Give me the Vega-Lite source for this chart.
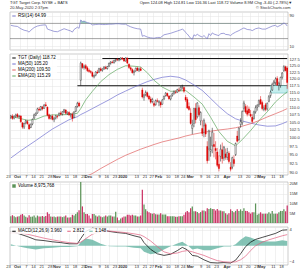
{
"$schema": "https://vega.github.io/schema/vega-lite/v6.json",
"padding": {"left": 5, "right": 1, "top": 1, "bottom": 0},
"background": "white",
"title": {"text": "TGT Target Corp. NYSE + BATS\u2003\u2003\u2003\u2003\u2003\u2003\u2003\u2003\u2003\u2003\u2003\u2003\u2003\u2003\u2003\u2003\u2003\u2003Open 124.08 High 124.81 Low 116.36 Last 118.72 Volume 8.9M Chg -3.40 (-2.78%)\u25bc", "subtitle": "20-May-2020 2:37pm\u2003\u2003\u2003\u2003\u2003\u2003\u2003\u2003\u2003\u2003\u2003\u2003\u2003\u2003\u2003\u2003\u2003\u2003\u2003\u2003\u2003\u2003\u2003\u2003\u2003\u2003\u2003\u2003\u2003\u2003\u2003\u2003\u2003\u2003\u2003\u2003\u2003\u2003\u2003\u2003\u2003\u2003\u2003\u2003\u2003\u2003\u2003\u2003\u2003\u2003\u2003\u2003© StockCharts.com", "anchor": "start", "frame": "group", "fontSize": 4.0, "subtitleFontSize": 4.0, "font": "Liberation Sans", "subtitleFont": "Liberation Sans", "fontWeight": "normal", "color": "#222", "subtitleColor": "#333", "offset": 1.5, "subtitlePadding": 1.2},
"spacing": 2,
"resolve": {"scale": {"x": "shared", "color": "independent"}, "legend": {"color": "independent"}},
"datasets": {
"ohlc": [
{"d":"2019-09-23","o":106.6,"h":107.4,"l":106.0,"c":107.0,"v":3.5},
{"d":"2019-09-24","o":107.0,"h":107.6,"l":105.8,"c":106.2,"v":4.0},
{"d":"2019-09-25","o":106.3,"h":107.2,"l":105.9,"c":106.9,"v":3.4},
{"d":"2019-09-26","o":107.0,"h":107.8,"l":106.5,"c":107.4,"v":3.0},
{"d":"2019-09-27","o":107.5,"h":108.0,"l":106.4,"c":106.8,"v":3.3},
{"d":"2019-09-30","o":106.9,"h":107.4,"l":106.2,"c":106.9,"v":3.5},
{"d":"2019-10-01","o":107.0,"h":107.3,"l":104.8,"c":105.1,"v":4.2},
{"d":"2019-10-02","o":104.8,"h":105.0,"l":102.9,"c":103.4,"v":4.6},
{"d":"2019-10-03","o":103.4,"h":104.8,"l":102.8,"c":104.6,"v":3.8},
{"d":"2019-10-04","o":104.8,"h":105.8,"l":104.3,"c":105.4,"v":3.2},
{"d":"2019-10-07","o":105.2,"h":105.8,"l":104.2,"c":104.5,"v":2.8},
{"d":"2019-10-08","o":104.2,"h":104.6,"l":102.6,"c":102.8,"v":4.0},
{"d":"2019-10-09","o":103.3,"h":104.6,"l":103.1,"c":104.3,"v":3.2},
{"d":"2019-10-10","o":104.4,"h":106.2,"l":104.0,"c":105.9,"v":3.3},
{"d":"2019-10-11","o":106.3,"h":107.8,"l":106.0,"c":107.4,"v":3.8},
{"d":"2019-10-14","o":107.3,"h":108.2,"l":107.0,"c":107.9,"v":2.8},
{"d":"2019-10-15","o":108.0,"h":109.8,"l":107.8,"c":109.4,"v":3.8},
{"d":"2019-10-16","o":109.3,"h":110.0,"l":108.6,"c":109.0,"v":3.3},
{"d":"2019-10-17","o":109.2,"h":110.4,"l":108.7,"c":110.2,"v":3.3},
{"d":"2019-10-18","o":110.0,"h":110.4,"l":108.9,"c":109.4,"v":3.6},
{"d":"2019-10-21","o":109.6,"h":111.0,"l":109.4,"c":110.7,"v":3.2},
{"d":"2019-10-22","o":110.8,"h":111.7,"l":110.2,"c":110.4,"v":3.6},
{"d":"2019-10-23","o":110.0,"h":110.2,"l":106.9,"c":107.3,"v":5.5},
{"d":"2019-10-24","o":107.4,"h":107.8,"l":105.8,"c":106.2,"v":4.6},
{"d":"2019-10-25","o":106.3,"h":107.3,"l":105.9,"c":106.9,"v":3.3},
{"d":"2019-10-28","o":107.0,"h":107.5,"l":105.6,"c":105.9,"v":3.2},
{"d":"2019-10-29","o":105.8,"h":106.6,"l":105.0,"c":106.3,"v":3.3},
{"d":"2019-10-30","o":106.4,"h":107.4,"l":105.9,"c":107.1,"v":3.0},
{"d":"2019-10-31","o":107.0,"h":107.3,"l":106.2,"c":106.9,"v":3.3},
{"d":"2019-11-01","o":107.2,"h":108.2,"l":106.9,"c":107.9,"v":3.3},
{"d":"2019-11-04","o":108.0,"h":108.6,"l":107.2,"c":107.6,"v":3.3},
{"d":"2019-11-05","o":107.6,"h":108.6,"l":107.2,"c":108.4,"v":3.0},
{"d":"2019-11-06","o":108.4,"h":109.4,"l":108.0,"c":109.1,"v":3.3},
{"d":"2019-11-07","o":109.0,"h":109.3,"l":107.6,"c":107.9,"v":3.8},
{"d":"2019-11-08","o":107.8,"h":108.5,"l":107.4,"c":108.3,"v":2.8},
{"d":"2019-11-11","o":108.2,"h":108.6,"l":107.0,"c":107.4,"v":2.8},
{"d":"2019-11-12","o":107.4,"h":107.9,"l":106.5,"c":107.7,"v":3.0},
{"d":"2019-11-13","o":107.6,"h":108.2,"l":105.2,"c":106.2,"v":4.2},
{"d":"2019-11-14","o":106.5,"h":108.6,"l":106.3,"c":108.4,"v":3.8},
{"d":"2019-11-15","o":108.6,"h":110.4,"l":108.3,"c":110.1,"v":4.6},
{"d":"2019-11-18","o":110.2,"h":111.8,"l":109.8,"c":111.3,"v":5.5},
{"d":"2019-11-19","o":111.4,"h":111.9,"l":110.0,"c":110.4,"v":6.5},
{"d":"2019-11-20","o":119.5,"h":126.6,"l":117.6,"c":126.0,"v":21.5},
{"d":"2019-11-21","o":125.8,"h":126.0,"l":123.8,"c":124.3,"v":8.5},
{"d":"2019-11-22","o":124.3,"h":125.4,"l":123.5,"c":124.8,"v":5.5},
{"d":"2019-11-25","o":125.0,"h":125.6,"l":123.6,"c":124.0,"v":4.6},
{"d":"2019-11-26","o":124.2,"h":124.8,"l":122.6,"c":123.1,"v":4.6},
{"d":"2019-11-27","o":123.3,"h":123.9,"l":122.3,"c":122.8,"v":3.8},
{"d":"2019-11-29","o":122.8,"h":123.3,"l":122.0,"c":122.5,"v":2.3},
{"d":"2019-12-02","o":122.4,"h":122.8,"l":120.6,"c":121.0,"v":4.6},
{"d":"2019-12-03","o":120.8,"h":121.6,"l":120.2,"c":121.3,"v":4.6},
{"d":"2019-12-04","o":121.4,"h":122.9,"l":121.0,"c":122.6,"v":3.8},
{"d":"2019-12-05","o":122.6,"h":123.4,"l":121.9,"c":122.2,"v":3.3},
{"d":"2019-12-06","o":122.5,"h":124.2,"l":122.3,"c":123.9,"v":3.8},
{"d":"2019-12-09","o":123.8,"h":124.4,"l":122.8,"c":123.2,"v":3.3},
{"d":"2019-12-10","o":123.2,"h":124.0,"l":122.7,"c":123.7,"v":3.0},
{"d":"2019-12-11","o":123.8,"h":124.8,"l":123.4,"c":124.5,"v":3.3},
{"d":"2019-12-12","o":124.4,"h":125.0,"l":123.6,"c":123.9,"v":3.8},
{"d":"2019-12-13","o":123.9,"h":124.9,"l":123.5,"c":124.7,"v":3.3},
{"d":"2019-12-16","o":124.8,"h":126.2,"l":124.5,"c":125.9,"v":3.8},
{"d":"2019-12-17","o":126.0,"h":126.8,"l":125.4,"c":126.4,"v":3.8},
{"d":"2019-12-18","o":126.4,"h":127.0,"l":125.9,"c":126.2,"v":3.3},
{"d":"2019-12-19","o":126.2,"h":127.3,"l":125.8,"c":127.0,"v":3.3},
{"d":"2019-12-20","o":127.1,"h":127.8,"l":126.4,"c":127.5,"v":5.8},
{"d":"2019-12-23","o":127.4,"h":128.0,"l":126.8,"c":127.2,"v":2.8},
{"d":"2019-12-24","o":127.2,"h":127.7,"l":126.7,"c":127.4,"v":1.4},
{"d":"2019-12-26","o":127.4,"h":128.3,"l":127.1,"c":128.0,"v":2.3},
{"d":"2019-12-27","o":128.0,"h":128.4,"l":127.3,"c":127.6,"v":2.8},
{"d":"2019-12-30","o":127.6,"h":127.9,"l":126.5,"c":126.8,"v":3.3},
{"d":"2019-12-31","o":126.8,"h":128.2,"l":126.6,"c":128.1,"v":3.3},
{"d":"2020-01-02","o":128.0,"h":128.2,"l":125.6,"c":126.0,"v":4.2},
{"d":"2020-01-03","o":125.6,"h":125.9,"l":123.8,"c":124.3,"v":4.2},
{"d":"2020-01-06","o":124.2,"h":124.7,"l":122.9,"c":123.6,"v":3.8},
{"d":"2020-01-07","o":123.5,"h":124.0,"l":122.0,"c":122.3,"v":4.2},
{"d":"2020-01-08","o":122.4,"h":123.4,"l":121.3,"c":122.8,"v":3.8},
{"d":"2020-01-09","o":123.0,"h":124.3,"l":122.7,"c":124.0,"v":3.8},
{"d":"2020-01-10","o":124.1,"h":124.6,"l":122.9,"c":123.2,"v":3.3},
{"d":"2020-01-13","o":123.3,"h":124.2,"l":122.6,"c":123.8,"v":3.3},
{"d":"2020-01-14","o":123.8,"h":124.5,"l":122.9,"c":123.2,"v":3.8},
{"d":"2020-01-15","o":116.0,"h":116.8,"l":113.0,"c":113.5,"v":17.0},
{"d":"2020-01-16","o":113.4,"h":114.6,"l":112.2,"c":114.2,"v":9.5},
{"d":"2020-01-17","o":114.4,"h":115.8,"l":113.8,"c":115.1,"v":7.0},
{"d":"2020-01-21","o":115.0,"h":115.4,"l":113.3,"c":113.7,"v":6.0},
{"d":"2020-01-22","o":113.8,"h":114.3,"l":112.4,"c":112.8,"v":5.5},
{"d":"2020-01-23","o":112.8,"h":113.6,"l":111.2,"c":111.7,"v":5.0},
{"d":"2020-01-24","o":111.9,"h":113.2,"l":111.3,"c":112.6,"v":4.8},
{"d":"2020-01-27","o":111.2,"h":112.0,"l":110.0,"c":110.6,"v":5.0},
{"d":"2020-01-28","o":110.8,"h":112.6,"l":110.5,"c":112.2,"v":4.5},
{"d":"2020-01-29","o":112.2,"h":113.0,"l":111.6,"c":112.0,"v":4.3},
{"d":"2020-01-30","o":111.6,"h":112.4,"l":110.3,"c":111.9,"v":4.3},
{"d":"2020-01-31","o":111.6,"h":112.0,"l":109.8,"c":110.7,"v":5.0},
{"d":"2020-02-03","o":111.0,"h":112.8,"l":110.8,"c":112.4,"v":4.3},
{"d":"2020-02-04","o":112.8,"h":114.0,"l":112.4,"c":113.7,"v":4.3},
{"d":"2020-02-05","o":114.0,"h":115.2,"l":113.6,"c":114.8,"v":4.3},
{"d":"2020-02-06","o":114.8,"h":115.0,"l":113.5,"c":113.9,"v":3.5},
{"d":"2020-02-07","o":113.8,"h":114.2,"l":112.5,"c":112.9,"v":3.5},
{"d":"2020-02-10","o":112.8,"h":114.0,"l":112.3,"c":113.8,"v":3.5},
{"d":"2020-02-11","o":114.0,"h":115.0,"l":113.6,"c":114.6,"v":3.5},
{"d":"2020-02-12","o":114.8,"h":115.8,"l":114.3,"c":115.4,"v":3.5},
{"d":"2020-02-13","o":115.2,"h":115.9,"l":114.6,"c":115.1,"v":3.2},
{"d":"2020-02-14","o":115.2,"h":116.4,"l":114.9,"c":116.1,"v":3.2},
{"d":"2020-02-18","o":116.0,"h":116.8,"l":115.2,"c":115.8,"v":3.5},
{"d":"2020-02-19","o":116.0,"h":117.3,"l":115.8,"c":117.0,"v":3.5},
{"d":"2020-02-20","o":117.0,"h":117.9,"l":116.2,"c":117.2,"v":3.5},
{"d":"2020-02-21","o":116.9,"h":117.2,"l":115.0,"c":115.5,"v":4.2},
{"d":"2020-02-24","o":113.4,"h":114.2,"l":111.8,"c":112.4,"v":5.5},
{"d":"2020-02-25","o":112.6,"h":113.4,"l":109.4,"c":109.7,"v":6.2},
{"d":"2020-02-26","o":110.2,"h":111.6,"l":108.8,"c":109.2,"v":5.5},
{"d":"2020-02-27","o":108.0,"h":109.6,"l":104.2,"c":104.6,"v":7.5},
{"d":"2020-02-28","o":103.0,"h":105.8,"l":101.2,"c":104.1,"v":8.5},
{"d":"2020-03-02","o":104.6,"h":109.8,"l":103.4,"c":109.5,"v":6.0},
{"d":"2020-03-03","o":109.6,"h":111.3,"l":104.6,"c":105.8,"v":6.0},
{"d":"2020-03-04","o":106.8,"h":111.7,"l":106.2,"c":111.4,"v":5.6},
{"d":"2020-03-05","o":109.8,"h":110.6,"l":106.8,"c":107.4,"v":5.0},
{"d":"2020-03-06","o":105.4,"h":108.6,"l":104.0,"c":108.2,"v":5.6},
{"d":"2020-03-09","o":103.0,"h":105.6,"l":100.6,"c":101.4,"v":6.4},
{"d":"2020-03-10","o":103.8,"h":106.2,"l":100.2,"c":105.6,"v":6.4},
{"d":"2020-03-11","o":104.2,"h":104.8,"l":100.3,"c":101.2,"v":6.0},
{"d":"2020-03-12","o":97.4,"h":99.0,"l":92.4,"c":93.2,"v":7.6},
{"d":"2020-03-13","o":96.6,"h":102.6,"l":93.2,"c":102.2,"v":7.2},
{"d":"2020-03-16","o":96.0,"h":100.4,"l":94.4,"c":96.5,"v":7.6},
{"d":"2020-03-17","o":97.6,"h":103.2,"l":95.4,"c":101.8,"v":7.2},
{"d":"2020-03-18","o":98.0,"h":101.6,"l":94.2,"c":97.4,"v":7.2},
{"d":"2020-03-19","o":96.8,"h":99.0,"l":93.6,"c":96.2,"v":6.4},
{"d":"2020-03-20","o":95.8,"h":97.0,"l":91.4,"c":91.9,"v":7.2},
{"d":"2020-03-23","o":92.2,"h":94.8,"l":90.2,"c":91.0,"v":6.4},
{"d":"2020-03-24","o":94.5,"h":98.0,"l":93.0,"c":96.6,"v":6.4},
{"d":"2020-03-25","o":96.4,"h":98.6,"l":92.4,"c":93.8,"v":6.0},
{"d":"2020-03-26","o":94.0,"h":97.6,"l":93.2,"c":97.2,"v":6.0},
{"d":"2020-03-27","o":95.2,"h":96.8,"l":93.5,"c":94.2,"v":5.0},
{"d":"2020-03-30","o":94.2,"h":97.0,"l":93.4,"c":95.6,"v":4.4},
{"d":"2020-03-31","o":95.4,"h":96.0,"l":92.4,"c":93.0,"v":5.0},
{"d":"2020-04-01","o":91.4,"h":92.8,"l":90.2,"c":90.8,"v":7.0},
{"d":"2020-04-02","o":91.4,"h":94.4,"l":90.8,"c":94.1,"v":6.2},
{"d":"2020-04-03","o":93.6,"h":94.8,"l":91.6,"c":92.4,"v":5.5},
{"d":"2020-04-06","o":95.0,"h":98.6,"l":94.6,"c":98.3,"v":6.2},
{"d":"2020-04-07","o":100.6,"h":102.2,"l":98.6,"c":99.0,"v":7.0},
{"d":"2020-04-08","o":99.5,"h":103.4,"l":99.0,"c":103.1,"v":6.2},
{"d":"2020-04-09","o":104.2,"h":106.3,"l":103.2,"c":105.2,"v":7.0},
{"d":"2020-04-13","o":104.8,"h":108.9,"l":104.0,"c":108.5,"v":6.2},
{"d":"2020-04-14","o":109.6,"h":112.2,"l":108.4,"c":111.4,"v":7.5},
{"d":"2020-04-15","o":110.2,"h":111.0,"l":107.8,"c":108.3,"v":6.2},
{"d":"2020-04-16","o":108.8,"h":110.6,"l":106.9,"c":107.6,"v":6.2},
{"d":"2020-04-17","o":109.4,"h":110.2,"l":107.2,"c":108.0,"v":5.5},
{"d":"2020-04-20","o":107.6,"h":109.0,"l":106.6,"c":107.0,"v":4.8},
{"d":"2020-04-21","o":106.6,"h":107.6,"l":104.7,"c":105.2,"v":5.5},
{"d":"2020-04-22","o":106.2,"h":108.8,"l":105.8,"c":108.4,"v":5.5},
{"d":"2020-04-23","o":108.4,"h":110.6,"l":107.8,"c":109.8,"v":10.0},
{"d":"2020-04-24","o":110.0,"h":111.0,"l":108.8,"c":110.6,"v":4.2},
{"d":"2020-04-27","o":110.8,"h":112.6,"l":110.0,"c":112.2,"v":4.8},
{"d":"2020-04-28","o":112.6,"h":113.8,"l":110.8,"c":111.1,"v":5.5},
{"d":"2020-04-29","o":111.6,"h":112.2,"l":108.9,"c":109.5,"v":4.8},
{"d":"2020-04-30","o":109.2,"h":110.6,"l":108.6,"c":109.7,"v":4.8},
{"d":"2020-05-01","o":110.8,"h":111.4,"l":108.6,"c":109.2,"v":4.8},
{"d":"2020-05-04","o":109.4,"h":111.6,"l":108.8,"c":111.3,"v":4.8},
{"d":"2020-05-05","o":112.0,"h":114.2,"l":111.6,"c":113.6,"v":5.5},
{"d":"2020-05-06","o":114.0,"h":115.8,"l":113.2,"c":115.2,"v":4.8},
{"d":"2020-05-07","o":116.0,"h":118.6,"l":115.6,"c":118.0,"v":6.2},
{"d":"2020-05-08","o":118.4,"h":119.6,"l":117.6,"c":118.9,"v":4.8},
{"d":"2020-05-11","o":118.6,"h":120.6,"l":117.8,"c":120.0,"v":4.8},
{"d":"2020-05-12","o":120.2,"h":121.0,"l":117.4,"c":117.8,"v":4.8},
{"d":"2020-05-13","o":117.6,"h":119.0,"l":115.8,"c":118.4,"v":5.5},
{"d":"2020-05-14","o":117.6,"h":120.8,"l":116.8,"c":120.6,"v":6.2},
{"d":"2020-05-15","o":120.6,"h":122.6,"l":119.8,"c":122.2,"v":6.2},
{"d":"2020-05-18","o":123.2,"h":125.2,"l":122.6,"c":124.6,"v":7.0},
{"d":"2020-05-19","o":124.6,"h":125.0,"l":122.8,"c":123.1,"v":6.0},
{"d":"2020-05-20","o":124.1,"h":124.8,"l":116.4,"c":118.7,"v":9.0}
],
"rsi": [
{"d":"2019-09-23","r":65},{"d":"2019-09-25","r":63},{"d":"2019-09-27","r":62},{"d":"2019-10-01","r":56},{"d":"2019-10-03","r":52},{"d":"2019-10-07","r":50},{"d":"2019-10-08","r":47},{"d":"2019-10-09","r":52},{"d":"2019-10-11","r":59},{"d":"2019-10-15","r":63},{"d":"2019-10-17","r":65},{"d":"2019-10-21","r":66},{"d":"2019-10-22","r":66},{"d":"2019-10-23","r":55},{"d":"2019-10-25","r":52},{"d":"2019-10-29","r":49},{"d":"2019-10-31","r":48},{"d":"2019-11-04","r":52},{"d":"2019-11-06","r":56},{"d":"2019-11-08","r":53},{"d":"2019-11-12","r":50},{"d":"2019-11-13","r":47},{"d":"2019-11-14","r":54},{"d":"2019-11-18","r":60},{"d":"2019-11-19","r":57},{"d":"2019-11-20","r":79},{"d":"2019-11-21","r":75},{"d":"2019-11-22","r":76},{"d":"2019-11-25","r":74},{"d":"2019-11-26","r":72},{"d":"2019-11-27","r":71},{"d":"2019-11-29","r":69},{"d":"2019-12-02","r":66},{"d":"2019-12-04","r":67},{"d":"2019-12-06","r":68},{"d":"2019-12-10","r":67},{"d":"2019-12-12","r":67},{"d":"2019-12-16","r":68},{"d":"2019-12-18","r":68},{"d":"2019-12-20","r":69},{"d":"2019-12-24","r":69},{"d":"2019-12-27","r":68},{"d":"2019-12-31","r":68},{"d":"2020-01-02","r":65},{"d":"2020-01-06","r":61},{"d":"2020-01-08","r":58},{"d":"2020-01-10","r":56},{"d":"2020-01-14","r":55},{"d":"2020-01-15","r":36},{"d":"2020-01-16","r":38},{"d":"2020-01-21","r":34},{"d":"2020-01-23","r":32},{"d":"2020-01-27","r":31},{"d":"2020-01-29","r":33},{"d":"2020-01-31","r":33},{"d":"2020-02-04","r":40},{"d":"2020-02-06","r":42},{"d":"2020-02-10","r":44},{"d":"2020-02-12","r":47},{"d":"2020-02-14","r":50},{"d":"2020-02-19","r":53},{"d":"2020-02-20","r":55},{"d":"2020-02-21","r":52},{"d":"2020-02-24","r":46},{"d":"2020-02-25","r":42},{"d":"2020-02-27","r":31},{"d":"2020-02-28","r":28},{"d":"2020-03-02","r":40},{"d":"2020-03-03","r":37},{"d":"2020-03-04","r":42},{"d":"2020-03-05","r":38},{"d":"2020-03-09","r":34},{"d":"2020-03-10","r":38},{"d":"2020-03-11","r":34},{"d":"2020-03-12","r":29},{"d":"2020-03-13","r":43},{"d":"2020-03-16","r":38},{"d":"2020-03-17","r":45},{"d":"2020-03-18","r":42},{"d":"2020-03-20","r":39},{"d":"2020-03-23","r":38},{"d":"2020-03-24","r":43},{"d":"2020-03-26","r":44},{"d":"2020-03-27","r":41},{"d":"2020-03-31","r":40},{"d":"2020-04-01","r":38},{"d":"2020-04-02","r":42},{"d":"2020-04-06","r":47},{"d":"2020-04-08","r":51},{"d":"2020-04-13","r":56},{"d":"2020-04-14","r":58},{"d":"2020-04-16","r":54},{"d":"2020-04-20","r":53},{"d":"2020-04-21","r":51},{"d":"2020-04-23","r":56},{"d":"2020-04-27","r":58},{"d":"2020-04-29","r":55},{"d":"2020-05-01","r":55},{"d":"2020-05-05","r":59},{"d":"2020-05-07","r":63},{"d":"2020-05-11","r":65},{"d":"2020-05-12","r":61},{"d":"2020-05-14","r":65},{"d":"2020-05-18","r":71},{"d":"2020-05-19","r":69},{"d":"2020-05-20","r":63}
],
"ma": [
{"d":"2019-09-23","a20":106.8,"a50":94.0},
{"d":"2019-09-30","a20":106.3,"a50":95.8},
{"d":"2019-10-07","a20":105.6,"a50":97.5},
{"d":"2019-10-14","a20":105.9,"a50":99.2},
{"d":"2019-10-21","a20":107.0,"a50":101.0},
{"d":"2019-10-28","a20":107.4,"a50":102.8},
{"d":"2019-11-04","a20":107.4,"a50":104.3,"a200":86.5},
{"d":"2019-11-11","a20":107.6,"a50":105.8,"a200":87.3},
{"d":"2019-11-18","a20":107.9,"a50":106.8,"a200":88.0},
{"d":"2019-11-20","a20":109.5,"a50":107.5},
{"d":"2019-11-25","a20":112.5,"a50":108.3,"a200":88.8},
{"d":"2019-12-02","a20":115.5,"a50":109.5,"a200":89.6},
{"d":"2019-12-09","a20":119.0,"a50":111.0,"a200":91.0},
{"d":"2019-12-16","a20":121.6,"a50":112.5,"a200":92.3},
{"d":"2019-12-23","a20":123.6,"a50":114.2,"a200":93.6},
{"d":"2019-12-31","a20":125.0,"a50":115.6,"a200":94.8},
{"d":"2020-01-08","a20":124.8,"a50":117.0,"a200":95.8},
{"d":"2020-01-14","a20":124.5,"a50":118.0,"a200":96.6},
{"d":"2020-01-21","a20":122.3,"a50":119.0,"a200":97.3},
{"d":"2020-01-27","a20":119.5,"a50":119.8,"a200":98.0},
{"d":"2020-02-03","a20":117.0,"a50":120.6,"a200":98.8},
{"d":"2020-02-10","a20":115.5,"a50":121.0,"a200":99.4},
{"d":"2020-02-18","a20":115.6,"a50":120.6,"a200":100.0},
{"d":"2020-02-24","a20":115.8,"a50":119.6,"a200":100.6},
{"d":"2020-03-02","a20":113.5,"a50":117.8,"a200":101.2},
{"d":"2020-03-09","a20":111.0,"a50":115.8,"a200":101.7},
{"d":"2020-03-16","a20":106.6,"a50":113.0,"a200":102.1},
{"d":"2020-03-23","a20":102.0,"a50":110.2,"a200":102.5},
{"d":"2020-03-30","a20":99.0,"a50":107.8,"a200":102.8},
{"d":"2020-04-06","a20":97.6,"a50":106.1,"a200":103.2},
{"d":"2020-04-13","a20":99.5,"a50":105.4,"a200":103.7},
{"d":"2020-04-20","a20":102.3,"a50":104.7,"a200":104.5},
{"d":"2020-04-27","a20":105.5,"a50":104.1,"a200":105.5},
{"d":"2020-05-04","a20":108.4,"a50":103.7,"a200":106.7},
{"d":"2020-05-11","a20":111.8,"a50":103.8,"a200":107.8},
{"d":"2020-05-15","a20":113.9,"a50":104.5,"a200":108.7},
{"d":"2020-05-20","a20":115.3,"a50":105.2,"a200":109.5}
],
"macd": [
{"d":"2019-09-23","m":3.6,"s":3.2,"h":0.4},
{"d":"2019-09-30","m":3.0,"s":3.2,"h":-0.2},
{"d":"2019-10-07","m":2.3,"s":2.9,"h":-0.6},
{"d":"2019-10-14","m":1.5,"s":2.4,"h":-0.9},
{"d":"2019-10-21","m":1.3,"s":1.9,"h":-0.6},
{"d":"2019-10-28","m":1.0,"s":1.5,"h":-0.5},
{"d":"2019-11-04","m":0.8,"s":1.1,"h":-0.3},
{"d":"2019-11-11","m":0.5,"s":0.8,"h":-0.3},
{"d":"2019-11-18","m":0.5,"s":0.6,"h":-0.1},
{"d":"2019-11-20","m":1.8,"s":0.9,"h":0.9},
{"d":"2019-11-25","m":3.6,"s":1.8,"h":1.8},
{"d":"2019-12-02","m":4.4,"s":2.9,"h":1.5},
{"d":"2019-12-09","m":4.1,"s":3.6,"h":0.5},
{"d":"2019-12-16","m":3.6,"s":3.7,"h":-0.1},
{"d":"2019-12-23","m":3.3,"s":3.5,"h":-0.2},
{"d":"2019-12-31","m":3.1,"s":3.3,"h":-0.2},
{"d":"2020-01-08","m":2.5,"s":3.0,"h":-0.5},
{"d":"2020-01-14","m":2.1,"s":2.7,"h":-0.6},
{"d":"2020-01-16","m":0.8,"s":2.3,"h":-1.5},
{"d":"2020-01-23","m":-0.9,"s":1.2,"h":-2.1},
{"d":"2020-01-29","m":-2.0,"s":-0.2,"h":-1.8},
{"d":"2020-02-04","m":-2.4,"s":-1.5,"h":-0.9},
{"d":"2020-02-10","m":-2.1,"s":-2.0,"h":-0.1},
{"d":"2020-02-14","m":-1.2,"s":-1.8,"h":0.6},
{"d":"2020-02-20","m":-0.4,"s":-1.4,"h":1.0},
{"d":"2020-02-25","m":-1.0,"s":-1.2,"h":0.2},
{"d":"2020-02-28","m":-2.4,"s":-1.5,"h":-0.9},
{"d":"2020-03-04","m":-2.6,"s":-1.9,"h":-0.7},
{"d":"2020-03-10","m":-3.5,"s":-2.4,"h":-1.1},
{"d":"2020-03-16","m":-4.2,"s":-3.1,"h":-1.1},
{"d":"2020-03-20","m":-4.3,"s":-3.7,"h":-0.6},
{"d":"2020-03-26","m":-4.2,"s":-4.0,"h":-0.2},
{"d":"2020-04-01","m":-4.3,"s":-4.1,"h":-0.2},
{"d":"2020-04-06","m":-3.6,"s":-4.0,"h":0.4},
{"d":"2020-04-09","m":-2.0,"s":-3.5,"h":1.5},
{"d":"2020-04-15","m":-0.2,"s":-2.6,"h":2.4},
{"d":"2020-04-20","m":0.9,"s":-1.2,"h":2.1},
{"d":"2020-04-23","m":1.6,"s":0.0,"h":1.6},
{"d":"2020-04-29","m":2.1,"s":0.9,"h":1.2},
{"d":"2020-05-05","m":2.6,"s":1.5,"h":1.1},
{"d":"2020-05-11","m":3.1,"s":2.0,"h":1.1},
{"d":"2020-05-15","m":3.9,"s":2.5,"h":1.4},
{"d":"2020-05-20","m":4.0,"s":2.8,"h":1.2}
],
"lines": [
{"d1":"2019-12-10","d2":"2020-05-20","p":127.8},
{"d1":"2019-11-18","d2":"2020-05-20","p":117.5}
],
"box": [
{"d1":"2020-05-06","d2":"2020-05-20","p1":114.9,"p2":117.5}
]
},
"vconcat": [
{
"width": 278, "height": 38,
"layer": [
{"data": {"name": "rsi"}, "transform": [{"filter": "datum.r >= 70"}],
 "mark": {"type": "area", "color": "#7fc4b4", "opacity": 0.8},
 "encoding": {"x": {"field": "d", "type": "ordinal"}, "y": {"field": "r", "type": "quantitative", "scale": {"domain": [0, 100], "nice": false}}, "y2": {"datum": 70}}},
{"data": {"values": [{"y": 70}, {"y": 30}]},
 "mark": {"type": "rule", "color": "#666", "strokeWidth": 0.6},
 "encoding": {"y": {"field": "y", "type": "quantitative"}}},
{"data": {"name": "rsi"},
 "mark": {"type": "line", "strokeWidth": 0.7},
 "encoding": {
  "x": {"field": "d", "type": "ordinal", "title": null, "axis": {"labels": false, "grid": true, "values": ["2019-09-23","2019-10-01","2019-10-07","2019-10-14","2019-10-21","2019-10-28","2019-11-04","2019-11-11","2019-11-18","2019-11-25","2019-12-02","2019-12-09","2019-12-16","2019-12-23","2020-01-02","2020-01-13","2020-01-21","2020-01-27","2020-02-03","2020-02-10","2020-02-18","2020-02-24","2020-03-02","2020-03-09","2020-03-16","2020-03-23","2020-04-01","2020-04-13","2020-04-20","2020-04-27","2020-05-01","2020-05-11","2020-05-18"]}},
  "y": {"field": "r", "type": "quantitative", "title": null, "scale": {"domain": [0, 100], "nice": false}, "axis": {"orient": "right", "values": [10, 30, 50, 70, 90], "grid": true}},
  "color": {"datum": "RSI(14) 64.99", "scale": {"range": ["#7878c8"]}, "legend": {"symbolType": "stroke", "title": null}}
 }}
]
},
{
"width": 278, "height": 121,
"layer": [
{"data": {"name": "lines"},
 "mark": {"type": "rule", "color": "#111", "strokeWidth": 1},
 "encoding": {"x": {"field": "d1", "type": "ordinal"}, "x2": {"field": "d2"}, "y": {"field": "p", "type": "quantitative"}}},
{"data": {"name": "box"},
 "mark": {"type": "rect", "fill": "#c4eeee", "stroke": "#66c2c2", "strokeWidth": 0.5},
 "encoding": {"x": {"field": "d1", "type": "ordinal"}, "x2": {"field": "d2"}, "y": {"field": "p1", "type": "quantitative"}, "y2": {"field": "p2"}}},
{"data": {"name": "ma"},
 "transform": [{"fold": ["a50", "a200", "a20"], "as": ["k", "val"]}, {"filter": "isValid(datum.val)"}],
 "mark": {"type": "line", "strokeWidth": 0.7, "clip": true},
 "encoding": {"x": {"field": "d", "type": "ordinal"}, "y": {"field": "val", "type": "quantitative"},
  "color": {"field": "k", "type": "nominal", "scale": {"domain": ["TGT", "a50", "a200", "a20"], "range": ["#000000", "#7070d0", "#e06060", "#60a860"]},
   "legend": {"title": null, "symbolType": "stroke", "labelExpr": "datum.label == 'TGT' ? 'TGT (Daily) 118.72' : datum.label == 'a50' ? 'MA(50) 105.20' : datum.label == 'a200' ? 'MA(200) 109.50' : 'EMA(20) 115.29'"}}}},
{"data": {"name": "ohlc"},
 "mark": {"type": "rule", "strokeWidth": 0.5, "clip": true},
 "encoding": {"x": {"field": "d", "type": "ordinal"}, "y": {"field": "l", "type": "quantitative"}, "y2": {"field": "h"},
  "color": {"condition": {"test": "datum.c < datum.o", "value": "#e00000"}, "value": "#000000"}}},
{"data": {"name": "ohlc"},
 "mark": {"type": "bar", "strokeWidth": 0.35, "clip": true},
 "encoding": {
  "x": {"field": "d", "type": "ordinal", "title": null, "axis": {"grid": true, "labelAngle": 0, "labelFlush": false, "labelOverlap": false, "labelBound": false, "values": ["2019-09-23","2019-10-01","2019-10-07","2019-10-14","2019-10-21","2019-10-28","2019-11-04","2019-11-11","2019-11-18","2019-11-25","2019-12-02","2019-12-09","2019-12-16","2019-12-23","2020-01-02","2020-01-13","2020-01-21","2020-01-27","2020-02-03","2020-02-10","2020-02-18","2020-02-24","2020-03-02","2020-03-09","2020-03-16","2020-03-23","2020-04-01","2020-04-13","2020-04-20","2020-04-27","2020-05-01","2020-05-11","2020-05-18"],
   "labelExpr": "utcdate(toDate(datum.value)) <= 4 ? (utcmonth(toDate(datum.value)) == 0 ? '2020' : utcFormat(toDate(datum.value), '%b')) : utcFormat(toDate(datum.value), '%-d')",
   "labelFontWeight": {"condition": {"test": "utcdate(toDate(datum.value)) <= 4", "value": "bold"}, "value": "normal"}}},
  "y": {"field": "o", "type": "quantitative", "title": null, "scale": {"type": "log", "domain": [89.2, 129.6], "nice": false}, "axis": {"orient": "right", "grid": true, "format": ".1f", "values": [90, 92.5, 95, 97.5, 100, 102.5, 105, 107.5, 110, 112.5, 115, 117.5, 120, 122.5, 125, 127.5]}},
  "y2": {"field": "c"},
  "fill": {"condition": {"test": "datum.c < datum.o", "value": "#e00000"}, "value": "#ffffff"},
  "stroke": {"condition": {"test": "datum.c < datum.o", "value": "#e00000"}, "value": "#000000"}
 }}
]
},
{
"width": 278, "height": 41,
"layer": [
{"data": {"name": "ohlc"},
 "mark": {"type": "bar", "clip": true},
 "encoding": {
  "x": {"field": "d", "type": "ordinal", "title": null, "axis": {"labels": false, "grid": true, "values": ["2019-09-23","2019-10-01","2019-10-07","2019-10-14","2019-10-21","2019-10-28","2019-11-04","2019-11-11","2019-11-18","2019-11-25","2019-12-02","2019-12-09","2019-12-16","2019-12-23","2020-01-02","2020-01-13","2020-01-21","2020-01-27","2020-02-03","2020-02-10","2020-02-18","2020-02-24","2020-03-02","2020-03-09","2020-03-16","2020-03-23","2020-04-01","2020-04-13","2020-04-20","2020-04-27","2020-05-01","2020-05-11","2020-05-18"]}},
  "y": {"field": "v", "type": "quantitative", "title": null, "scale": {"domain": [0, 21], "nice": false}, "axis": {"orient": "right", "grid": true, "values": [5, 10, 15, 20], "labelExpr": "datum.value + 'M'"}},
  "color": {"condition": {"test": "datum.c < datum.o", "value": "#cc3366"}, "datum": "Volume 8,975,768", "scale": {"range": ["#5d9459"]}, "legend": {"symbolType": "square", "title": null}}
 }}
]
},
{
"width": 278, "height": 38,
"layer": [
{"data": {"name": "macd"},
 "mark": {"type": "area", "color": "#6fb8a8", "opacity": 0.85},
 "encoding": {"x": {"field": "d", "type": "ordinal"}, "y": {"field": "h", "type": "quantitative"}, "y2": {"datum": 0}}},
{"data": {"name": "macd"},
 "transform": [{"fold": ["m", "s"], "as": ["k", "val"]}],
 "mark": {"type": "line", "strokeWidth": 0.7},
 "encoding": {
  "x": {"field": "d", "type": "ordinal", "title": null, "axis": {"grid": true, "labelAngle": 0, "labelFlush": false, "labelOverlap": false, "labelBound": false, "values": ["2019-09-23","2019-10-01","2019-10-07","2019-10-14","2019-10-21","2019-10-28","2019-11-04","2019-11-11","2019-11-18","2019-11-25","2019-12-02","2019-12-09","2019-12-16","2019-12-23","2020-01-02","2020-01-13","2020-01-21","2020-01-27","2020-02-03","2020-02-10","2020-02-18","2020-02-24","2020-03-02","2020-03-09","2020-03-16","2020-03-23","2020-04-01","2020-04-13","2020-04-20","2020-04-27","2020-05-01","2020-05-11","2020-05-18"],
   "labelExpr": "utcdate(toDate(datum.value)) <= 4 ? (utcmonth(toDate(datum.value)) == 0 ? '2020' : utcFormat(toDate(datum.value), '%b')) : utcFormat(toDate(datum.value), '%-d')",
   "labelFontWeight": {"condition": {"test": "utcdate(toDate(datum.value)) <= 4", "value": "bold"}, "value": "normal"}}},
  "y": {"field": "val", "type": "quantitative", "title": null, "scale": {"domain": [-4.8, 4.7], "nice": false}, "axis": {"orient": "right", "grid": true, "values": [-4, -2, 0, 2, 4]}},
  "color": {"field": "k", "type": "nominal", "scale": {"domain": ["m", "s", "h"], "range": ["#000000", "#e06080", "#6fb8a8"]},
   "legend": {"title": null, "direction": "horizontal", "symbolType": "stroke", "columnPadding": 2, "labelExpr": "datum.label == 'm' ? 'MACD(12,26,9) 3.960' : datum.label == 's' ? '2.812' : '1.148'"}}
 }}
]
}
],
"config": {
 "font": "Liberation Sans",
 "view": {"stroke": "#999999", "strokeWidth": 0.5},
 "axis": {"labelFontSize": 4.1, "labelColor": "#333333", "ticks": false, "domain": false, "gridColor": "#e2e2e2", "gridWidth": 0.5, "labelPadding": 1},
 "legend": {"orient": "top-left", "labelFontSize": 4.5, "offset": 1, "padding": 0.5, "rowPadding": 0, "symbolSize": 12, "symbolStrokeWidth": 1, "labelOffset": 1.5, "fillColor": "rgba(255,255,255,0.85)"},
 "scale": {"bandPaddingInner": 0.25, "bandPaddingOuter": 0.1}
}
}
